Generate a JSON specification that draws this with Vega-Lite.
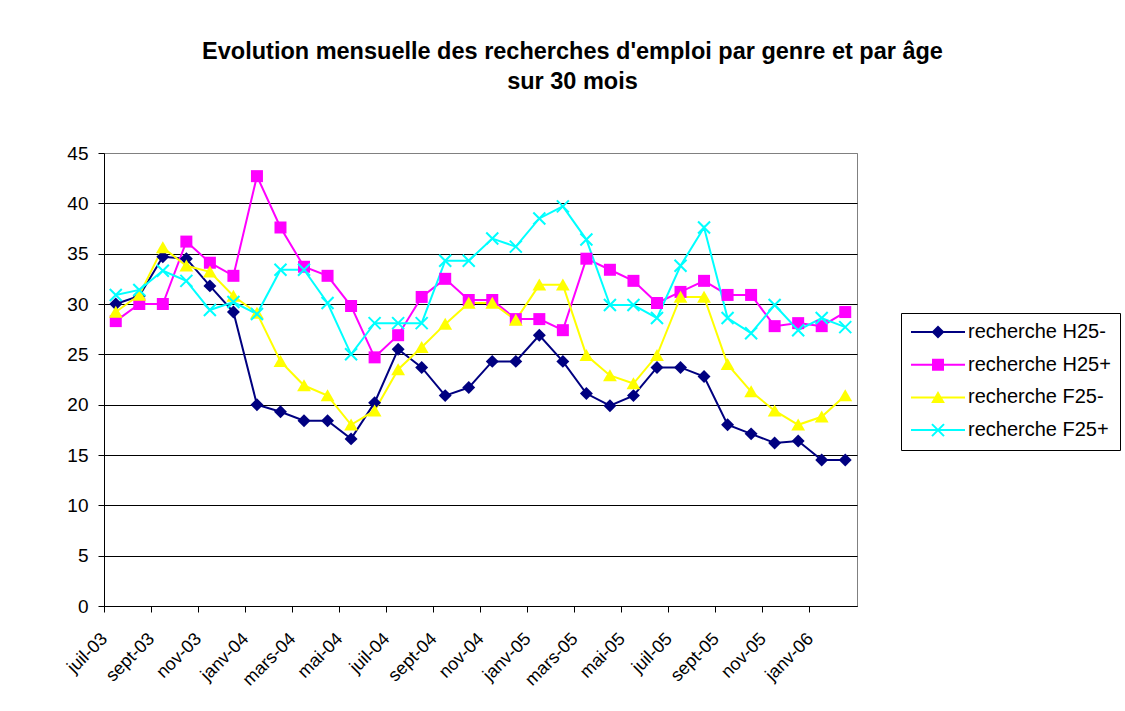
{
  "$schema": "https://vega.github.io/schema/vega-lite/v6.json",
  "autosize": {"type": "none"},
  "padding": {"left": 104, "top": 153, "right": 268, "bottom": 105},
  "width": 753,
  "height": 453,
  "background": "white",
  "title": {
    "text": ["Evolution mensuelle des recherches d'emploi par genre et par âge", "sur 30 mois"],
    "font": "Liberation Sans",
    "fontSize": 23.5,
    "fontWeight": "bold",
    "color": "black",
    "lineHeight": 30,
    "anchor": "middle",
    "dx": 92,
    "offset": 51
  },
  "config": {
    "font": "Liberation Sans",
    "view": {"stroke": "#808080", "strokeWidth": 1}
  },
  "data": {
    "values": [
      {"m": "juil-03", "s": "recherche H25-", "v": 30.0},
      {"m": "août-03", "s": "recherche H25-", "v": 30.8},
      {"m": "sept-03", "s": "recherche H25-", "v": 34.7},
      {"m": "oct-03", "s": "recherche H25-", "v": 34.5},
      {"m": "nov-03", "s": "recherche H25-", "v": 31.8},
      {"m": "déc-03", "s": "recherche H25-", "v": 29.2},
      {"m": "janv-04", "s": "recherche H25-", "v": 20.0},
      {"m": "févr-04", "s": "recherche H25-", "v": 19.3},
      {"m": "mars-04", "s": "recherche H25-", "v": 18.4},
      {"m": "avr-04", "s": "recherche H25-", "v": 18.4},
      {"m": "mai-04", "s": "recherche H25-", "v": 16.6},
      {"m": "juin-04", "s": "recherche H25-", "v": 20.2},
      {"m": "juil-04", "s": "recherche H25-", "v": 25.5},
      {"m": "août-04", "s": "recherche H25-", "v": 23.7},
      {"m": "sept-04", "s": "recherche H25-", "v": 20.9},
      {"m": "oct-04", "s": "recherche H25-", "v": 21.7},
      {"m": "nov-04", "s": "recherche H25-", "v": 24.3},
      {"m": "déc-04", "s": "recherche H25-", "v": 24.3},
      {"m": "janv-05", "s": "recherche H25-", "v": 26.9},
      {"m": "févr-05", "s": "recherche H25-", "v": 24.3},
      {"m": "mars-05", "s": "recherche H25-", "v": 21.1},
      {"m": "avr-05", "s": "recherche H25-", "v": 19.9},
      {"m": "mai-05", "s": "recherche H25-", "v": 20.9},
      {"m": "juin-05", "s": "recherche H25-", "v": 23.7},
      {"m": "juil-05", "s": "recherche H25-", "v": 23.7},
      {"m": "août-05", "s": "recherche H25-", "v": 22.8},
      {"m": "sept-05", "s": "recherche H25-", "v": 18.0},
      {"m": "oct-05", "s": "recherche H25-", "v": 17.1},
      {"m": "nov-05", "s": "recherche H25-", "v": 16.2},
      {"m": "déc-05", "s": "recherche H25-", "v": 16.4},
      {"m": "janv-06", "s": "recherche H25-", "v": 14.5},
      {"m": "févr-06", "s": "recherche H25-", "v": 14.5},
      {"m": "juil-03", "s": "recherche H25+", "v": 28.3},
      {"m": "août-03", "s": "recherche H25+", "v": 30.0},
      {"m": "sept-03", "s": "recherche H25+", "v": 30.0},
      {"m": "oct-03", "s": "recherche H25+", "v": 36.2},
      {"m": "nov-03", "s": "recherche H25+", "v": 34.1},
      {"m": "déc-03", "s": "recherche H25+", "v": 32.8},
      {"m": "janv-04", "s": "recherche H25+", "v": 42.7},
      {"m": "févr-04", "s": "recherche H25+", "v": 37.6},
      {"m": "mars-04", "s": "recherche H25+", "v": 33.7},
      {"m": "avr-04", "s": "recherche H25+", "v": 32.8},
      {"m": "mai-04", "s": "recherche H25+", "v": 29.8},
      {"m": "juin-04", "s": "recherche H25+", "v": 24.7},
      {"m": "juil-04", "s": "recherche H25+", "v": 26.9},
      {"m": "août-04", "s": "recherche H25+", "v": 30.7},
      {"m": "sept-04", "s": "recherche H25+", "v": 32.5},
      {"m": "oct-04", "s": "recherche H25+", "v": 30.4},
      {"m": "nov-04", "s": "recherche H25+", "v": 30.4},
      {"m": "déc-04", "s": "recherche H25+", "v": 28.5},
      {"m": "janv-05", "s": "recherche H25+", "v": 28.5},
      {"m": "févr-05", "s": "recherche H25+", "v": 27.4},
      {"m": "mars-05", "s": "recherche H25+", "v": 34.5},
      {"m": "avr-05", "s": "recherche H25+", "v": 33.4},
      {"m": "mai-05", "s": "recherche H25+", "v": 32.3},
      {"m": "juin-05", "s": "recherche H25+", "v": 30.1},
      {"m": "juil-05", "s": "recherche H25+", "v": 31.2},
      {"m": "août-05", "s": "recherche H25+", "v": 32.3},
      {"m": "sept-05", "s": "recherche H25+", "v": 30.9},
      {"m": "oct-05", "s": "recherche H25+", "v": 30.9},
      {"m": "nov-05", "s": "recherche H25+", "v": 27.8},
      {"m": "déc-05", "s": "recherche H25+", "v": 28.1},
      {"m": "janv-06", "s": "recherche H25+", "v": 27.8},
      {"m": "févr-06", "s": "recherche H25+", "v": 29.2},
      {"m": "juil-03", "s": "recherche F25-", "v": 29.2},
      {"m": "août-03", "s": "recherche F25-", "v": 30.9},
      {"m": "sept-03", "s": "recherche F25-", "v": 35.6},
      {"m": "oct-03", "s": "recherche F25-", "v": 33.8},
      {"m": "nov-03", "s": "recherche F25-", "v": 33.2},
      {"m": "déc-03", "s": "recherche F25-", "v": 30.8},
      {"m": "janv-04", "s": "recherche F25-", "v": 29.1},
      {"m": "févr-04", "s": "recherche F25-", "v": 24.3},
      {"m": "mars-04", "s": "recherche F25-", "v": 21.9},
      {"m": "avr-04", "s": "recherche F25-", "v": 20.9},
      {"m": "mai-04", "s": "recherche F25-", "v": 18.0},
      {"m": "juin-04", "s": "recherche F25-", "v": 19.4},
      {"m": "juil-04", "s": "recherche F25-", "v": 23.5},
      {"m": "août-04", "s": "recherche F25-", "v": 25.7},
      {"m": "sept-04", "s": "recherche F25-", "v": 28.0},
      {"m": "oct-04", "s": "recherche F25-", "v": 30.1},
      {"m": "nov-04", "s": "recherche F25-", "v": 30.1},
      {"m": "déc-04", "s": "recherche F25-", "v": 28.4},
      {"m": "janv-05", "s": "recherche F25-", "v": 31.9},
      {"m": "févr-05", "s": "recherche F25-", "v": 31.9},
      {"m": "mars-05", "s": "recherche F25-", "v": 24.9},
      {"m": "avr-05", "s": "recherche F25-", "v": 22.9},
      {"m": "mai-05", "s": "recherche F25-", "v": 22.1},
      {"m": "juin-05", "s": "recherche F25-", "v": 24.9},
      {"m": "juil-05", "s": "recherche F25-", "v": 30.7},
      {"m": "août-05", "s": "recherche F25-", "v": 30.7},
      {"m": "sept-05", "s": "recherche F25-", "v": 24.0},
      {"m": "oct-05", "s": "recherche F25-", "v": 21.3},
      {"m": "nov-05", "s": "recherche F25-", "v": 19.4},
      {"m": "déc-05", "s": "recherche F25-", "v": 18.0},
      {"m": "janv-06", "s": "recherche F25-", "v": 18.8},
      {"m": "févr-06", "s": "recherche F25-", "v": 20.9},
      {"m": "juil-03", "s": "recherche F25+", "v": 30.9},
      {"m": "août-03", "s": "recherche F25+", "v": 31.4},
      {"m": "sept-03", "s": "recherche F25+", "v": 33.3},
      {"m": "oct-03", "s": "recherche F25+", "v": 32.3},
      {"m": "nov-03", "s": "recherche F25+", "v": 29.4},
      {"m": "déc-03", "s": "recherche F25+", "v": 30.2},
      {"m": "janv-04", "s": "recherche F25+", "v": 29.0},
      {"m": "févr-04", "s": "recherche F25+", "v": 33.4},
      {"m": "mars-04", "s": "recherche F25+", "v": 33.4},
      {"m": "avr-04", "s": "recherche F25+", "v": 30.1},
      {"m": "mai-04", "s": "recherche F25+", "v": 25.0},
      {"m": "juin-04", "s": "recherche F25+", "v": 28.1},
      {"m": "juil-04", "s": "recherche F25+", "v": 28.1},
      {"m": "août-04", "s": "recherche F25+", "v": 28.1},
      {"m": "sept-04", "s": "recherche F25+", "v": 34.3},
      {"m": "oct-04", "s": "recherche F25+", "v": 34.3},
      {"m": "nov-04", "s": "recherche F25+", "v": 36.5},
      {"m": "déc-04", "s": "recherche F25+", "v": 35.7},
      {"m": "janv-05", "s": "recherche F25+", "v": 38.5},
      {"m": "févr-05", "s": "recherche F25+", "v": 39.7},
      {"m": "mars-05", "s": "recherche F25+", "v": 36.4},
      {"m": "avr-05", "s": "recherche F25+", "v": 29.9},
      {"m": "mai-05", "s": "recherche F25+", "v": 29.9},
      {"m": "juin-05", "s": "recherche F25+", "v": 28.6},
      {"m": "juil-05", "s": "recherche F25+", "v": 33.8},
      {"m": "août-05", "s": "recherche F25+", "v": 37.6},
      {"m": "sept-05", "s": "recherche F25+", "v": 28.6},
      {"m": "oct-05", "s": "recherche F25+", "v": 27.1},
      {"m": "nov-05", "s": "recherche F25+", "v": 29.9},
      {"m": "déc-05", "s": "recherche F25+", "v": 27.4},
      {"m": "janv-06", "s": "recherche F25+", "v": 28.6},
      {"m": "févr-06", "s": "recherche F25+", "v": 27.7}
    ]
  },
  "encoding": {
    "x": {
      "field": "m",
      "type": "ordinal",
      "sort": ["juil-03", "août-03", "sept-03", "oct-03", "nov-03", "déc-03", "janv-04", "févr-04", "mars-04", "avr-04", "mai-04", "juin-04", "juil-04", "août-04", "sept-04", "oct-04", "nov-04", "déc-04", "janv-05", "févr-05", "mars-05", "avr-05", "mai-05", "juin-05", "juil-05", "août-05", "sept-05", "oct-05", "nov-05", "déc-05", "janv-06", "févr-06"],
      "scale": {"type": "band", "paddingInner": 0, "paddingOuter": 0},
      "axis": {
        "title": null,
        "values": ["juil-03", "sept-03", "nov-03", "janv-04", "mars-04", "mai-04", "juil-04", "sept-04", "nov-04", "janv-05", "mars-05", "mai-05", "juil-05", "sept-05", "nov-05", "janv-06"],
        "bandPosition": 0,
        "grid": false,
        "domainColor": "black",
        "domainWidth": 1,
        "tickColor": "black",
        "tickSize": 6,
        "tickWidth": 1,
        "labelFont": "Liberation Sans",
        "labelFontSize": 18,
        "labelColor": "black",
        "labelAngle": -45,
        "labelAlign": "right",
        "labelBaseline": "middle",
        "labelPadding": 24,
        "labelOffset": -11,
        "labelOverlap": false,
        "labelBound": false,
        "labelFlush": false
      }
    },
    "y": {
      "field": "v",
      "type": "quantitative",
      "scale": {"domain": [0, 45], "nice": false, "zero": true},
      "axis": {
        "title": null,
        "values": [0, 5, 10, 15, 20, 25, 30, 35, 40, 45],
        "grid": true,
        "gridColor": {"condition": {"test": "datum.value === 45", "value": "#808080"}, "value": "black"},
        "gridWidth": 1,
        "domainColor": "black",
        "domainWidth": 1,
        "tickColor": "black",
        "tickSize": 6,
        "tickWidth": 1,
        "labelFont": "Liberation Sans",
        "labelFontSize": 19,
        "labelColor": "black",
        "labelPadding": 10,
        "labelOverlap": false
      }
    }
  },
  "layer": [
    {
      "mark": {"type": "line", "strokeWidth": 2},
      "encoding": {
        "color": {
          "field": "s",
          "type": "nominal",
          "scale": {"domain": ["recherche H25-", "recherche H25+", "recherche F25-", "recherche F25+"], "range": ["#000080", "#FF00FF", "#FFFF00", "#00FFFF"]},
          "legend": {
            "title": null,
            "orient": "none",
            "legendX": 797,
            "legendY": 160,
            "padding": 9,
            "strokeColor": "black",
            "fillColor": "white",
            "rowPadding": 12.7,
            "symbolSize": 144,
            "symbolStrokeWidth": 0,
            "symbolOffset": 18,
            "labelOffset": 20,
            "labelFont": "Liberation Sans",
            "labelFontSize": 20,
            "labelColor": "black",
            "labelLimit": 300
          }
        }
      }
    },
    {
      "transform": [{"filter": {"field": "s", "equal": "recherche H25-"}}],
      "mark": {"type": "point", "filled": true, "opacity": 1, "size": 144, "strokeWidth": 0, "color": "#000080", "shape": "M0,-1.08L1.08,0L0,1.08L-1.08,0Z"},
      "encoding": {}
    },
    {
      "transform": [{"filter": {"field": "s", "equal": "recherche H25+"}}],
      "mark": {"type": "point", "filled": true, "opacity": 1, "size": 144, "strokeWidth": 0, "color": "#FF00FF", "shape": "M-1,-1H1V1H-1Z"},
      "encoding": {}
    },
    {
      "transform": [{"filter": {"field": "s", "equal": "recherche F25-"}}],
      "mark": {"type": "point", "filled": true, "opacity": 1, "size": 144, "strokeWidth": 0, "color": "#FFFF00", "shape": "M0,-1.05L1.15,0.95L-1.15,0.95Z"},
      "encoding": {}
    },
    {
      "transform": [{"filter": {"field": "s", "equal": "recherche F25+"}}],
      "mark": {"type": "point", "filled": true, "opacity": 1, "size": 144, "strokeWidth": 0, "color": "#00FFFF", "shape": "M-0.88,-1.12L1.12,0.88L0.88,1.12L-1.12,-0.88ZM-1.12,0.88L0.88,-1.12L1.12,-0.88L-0.88,1.12Z"},
      "encoding": {}
    },
    {
      "transform": [{"filter": "datum.v < 0"}],
      "mark": {"type": "point", "filled": true, "opacity": 1, "size": 144, "strokeWidth": 0},
      "encoding": {
        "color": {
          "field": "s",
          "type": "nominal",
          "scale": {"domain": ["recherche H25-", "recherche H25+", "recherche F25-", "recherche F25+"], "range": ["#000080", "#FF00FF", "#FFFF00", "#00FFFF"]},
          "legend": {
            "title": null,
            "orient": "none",
            "legendX": 797,
            "legendY": 160,
            "padding": 9,
            "strokeColor": "black",
            "fillColor": "white",
            "rowPadding": 12.7,
            "symbolSize": 144,
            "symbolStrokeWidth": 0,
            "symbolOffset": 18,
            "labelOffset": 20,
            "labelFont": "Liberation Sans",
            "labelFontSize": 20,
            "labelColor": "black",
            "labelLimit": 300
          }
        },
        "shape": {
          "field": "s",
          "type": "nominal",
          "scale": {
            "domain": ["recherche H25-", "recherche H25+", "recherche F25-", "recherche F25+"],
            "range": [
              "M-4.5,-0.17H4.5V0.17H-4.5ZM0,-1.08L1.08,0L0,1.08L-1.08,0Z",
              "M-4.5,-0.17H4.5V0.17H-4.5ZM-1,-1H1V1H-1Z",
              "M-4.5,-0.17H4.5V0.17H-4.5ZM0,-1.05L1.15,0.95L-1.15,0.95Z",
              "M-4.5,-0.17H4.5V0.17H-4.5ZM-0.88,-1.12L1.12,0.88L0.88,1.12L-1.12,-0.88ZM-1.12,0.88L0.88,-1.12L1.12,-0.88L-0.88,1.12Z"
            ]
          },
          "legend": {
            "title": null,
            "orient": "none",
            "legendX": 797,
            "legendY": 160,
            "padding": 9,
            "strokeColor": "black",
            "fillColor": "white",
            "rowPadding": 12.7,
            "symbolSize": 144,
            "symbolStrokeWidth": 0,
            "symbolOffset": 18,
            "labelOffset": 20,
            "labelFont": "Liberation Sans",
            "labelFontSize": 20,
            "labelColor": "black",
            "labelLimit": 300
          }
        }
      }
    }
  ]
}
